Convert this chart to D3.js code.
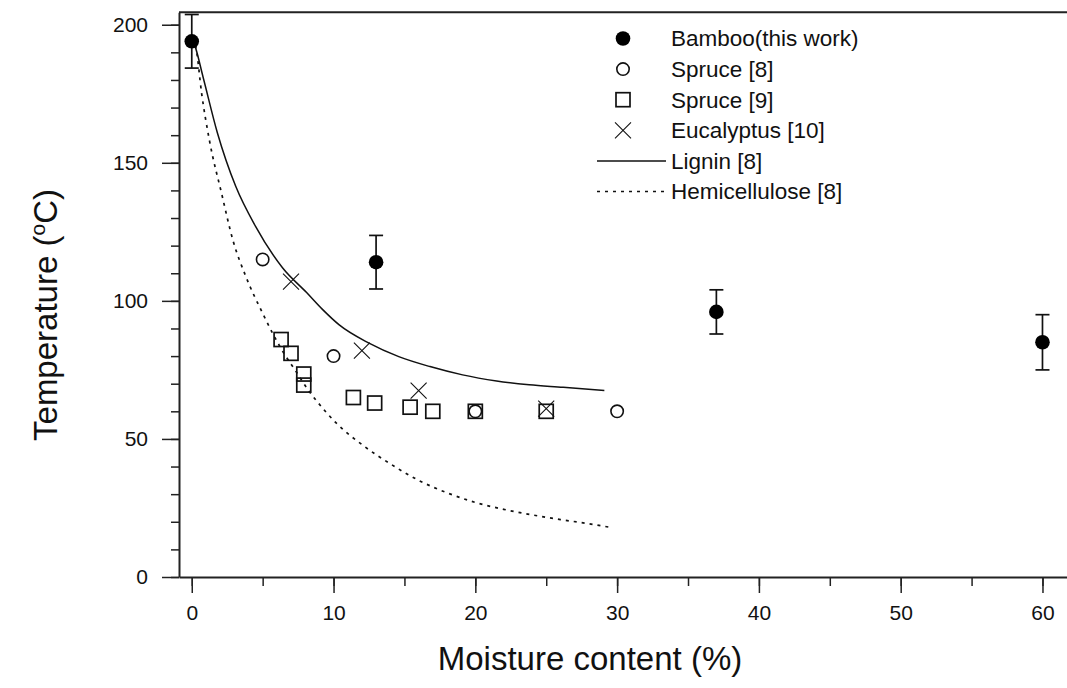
<!DOCTYPE html>
<html>
<head>
<meta charset="utf-8">
<script src="https://cdn.jsdelivr.net/npm/d3@7"></script>
<style>
  body { margin: 0; background: #fff; }
  text { font-family: "Liberation Sans", Arial, sans-serif; fill: #111; }
</style>
</head>
<body>
<div id="container"></div>
<script>
// measured points (moisture %, temperature C)
const bambooX = [0, 13, 37, 60];
const bambooY = [194, 114, 96, 85];
const bambooErr = [9.7, 9.7, 8, 10];

const spruce8X = [5, 10, 20, 30];
const spruce8Y = [115, 80, 60, 60];

const spruce9X = [6.3, 7, 7.9, 7.9, 11.4, 12.9, 15.4, 17, 20, 25];
const spruce9Y = [86, 81, 73.5, 69.5, 65, 63, 61.5, 60, 60, 60];

const eucX = [7, 12, 16, 25];
const eucY = [107, 82, 67.5, 61];

const ligninX = [0, 0.2, 0.8, 1.8, 3.1, 4.5, 6.4, 8.1, 9.2, 10.4, 12.5, 14.6, 16.8, 19.1, 21.5, 23.8, 26.2, 29.1];
const ligninY = [195, 192.7, 181, 161, 141.5, 127, 112, 103, 97, 91.3, 84.7, 79.8, 76.2, 73.2, 71, 69.6, 68.7, 67.5];

const hemiX = [0, 0.3, 0.7, 1.25, 2.1, 2.9, 3.8, 5.0, 5.7, 6.5, 7.36, 8.2, 8.77, 10.2, 12.2, 14, 16, 18, 20, 22, 24, 26, 28, 29.5];
const hemiY = [195, 191.5, 175, 158, 139, 122, 109, 95.5, 88.3, 81, 74.4, 67.8, 64, 55.7, 47.2, 41, 35, 30.5, 27, 24.5, 22.5, 20.8, 19.3, 18];

const xTicks = [0, 10, 20, 30, 40, 50, 60];
const yTicks = [0, 50, 100, 150, 200];

const legendLabels = ["Bamboo(this work)", "Spruce [8]", "Spruce [9]", "Eucalyptus [10]", "Lignin [8]", "Hemicellulose [8]"];

const W = 1067, H = 688;
const plotL = 179, plotT = 12.3, plotB = 577, plotR = 1068;

const svg = d3.select("#container").append("svg")
  .attr("width", W).attr("height", H);

const x = d3.scaleLinear().domain([-0.9, 61.8]).range([plotL, plotR]);
const y = d3.scaleLinear().domain([0, 204.5]).range([plotB, plotT]);

// minor ticks first
svg.append("g")
  .attr("transform", "translate(0," + plotB + ")")
  .call(d3.axisBottom(x).tickValues(d3.range(0, 61, 5)).tickSize(9).tickSizeOuter(0).tickFormat(""))
  .call(g => g.select(".domain").remove());
svg.append("g")
  .attr("transform", "translate(" + plotL + ",0)")
  .call(d3.axisLeft(y).tickValues(d3.range(0, 201, 10)).tickSize(8).tickSizeOuter(0).tickFormat(""))
  .call(g => g.select(".domain").remove());

svg.append("g")
  .attr("transform", "translate(0," + plotB + ")")
  .call(d3.axisBottom(x).tickValues(xTicks).tickSize(16).tickSizeOuter(0).tickPadding(12));
svg.append("g")
  .attr("transform", "translate(" + plotL + ",0)")
  .call(d3.axisLeft(y).tickValues(yTicks).tickSize(17).tickSizeOuter(0).tickPadding(14));

svg.selectAll(".tick line").attr("stroke", "#222").attr("stroke-width", 1.5);
svg.selectAll(".domain").attr("stroke", "#222").attr("stroke-width", 2);
svg.selectAll(".tick text").style("font-size", "21px").attr("fill", "#111");

// top frame line
svg.append("line")
  .attr("x1", plotL).attr("x2", plotR)
  .attr("y1", y(204.5)).attr("y2", y(204.5))
  .attr("stroke", "#222").attr("stroke-width", 2);

// axis titles
svg.append("text")
  .attr("x", 590).attr("y", 670)
  .attr("text-anchor", "middle")
  .style("font-size", "33px")
  .text("Moisture content (%)");

const yt = svg.append("text")
  .attr("transform", "translate(57,315) rotate(-90)")
  .attr("text-anchor", "middle")
  .style("font-size", "33px");
yt.append("tspan").text("Temperature (");
yt.append("tspan").attr("dy", -12).style("font-size", "21px").text("o");
yt.append("tspan").attr("dy", 12).text("C)");

// curves
const line = d3.line().x(d => x(d[0])).y(d => y(d[1])).curve(d3.curveMonotoneX);

svg.append("path")
  .datum(d3.zip(ligninX, ligninY))
  .attr("fill", "none").attr("stroke", "#111").attr("stroke-width", 1.5)
  .attr("d", line);

svg.append("path")
  .datum(d3.zip(hemiX, hemiY))
  .attr("fill", "none").attr("stroke", "#111").attr("stroke-width", 1.7)
  .attr("stroke-dasharray", "3,5")
  .attr("d", line);

// markers
function square(g, cx, cy) {
  g.append("rect").attr("x", cx - 7).attr("y", cy - 7)
    .attr("width", 14).attr("height", 14)
    .attr("fill", "none").attr("stroke", "#111").attr("stroke-width", 1.7);
}
function circle(g, cx, cy) {
  g.append("circle").attr("cx", cx).attr("cy", cy).attr("r", 6.2)
    .attr("fill", "none").attr("stroke", "#111").attr("stroke-width", 1.6);
}
function cross(g, cx, cy) {
  const s = 8;
  g.append("path")
    .attr("d", `M${cx - s},${cy - s}L${cx + s},${cy + s}M${cx - s},${cy + s}L${cx + s},${cy - s}`)
    .attr("stroke", "#111").attr("stroke-width", 1.1).attr("fill", "none");
}
function dot(g, cx, cy) {
  g.append("circle").attr("cx", cx).attr("cy", cy).attr("r", 7.3).attr("fill", "#000");
}

const marks = svg.append("g");
spruce9X.forEach((v, i) => square(marks, x(v), y(spruce9Y[i])));
spruce8X.forEach((v, i) => circle(marks, x(v), y(spruce8Y[i])));
eucX.forEach((v, i) => cross(marks, x(v), y(eucY[i])));

// bamboo with error bars
bambooX.forEach((v, i) => {
  const cx = x(v), lo = y(bambooY[i] - bambooErr[i]), hi = y(bambooY[i] + bambooErr[i]);
  marks.append("line").attr("x1", cx).attr("x2", cx).attr("y1", lo).attr("y2", hi)
    .attr("stroke", "#111").attr("stroke-width", 1.7);
  [lo, hi].forEach(yy => marks.append("line")
    .attr("x1", cx - 7).attr("x2", cx + 7).attr("y1", yy).attr("y2", yy)
    .attr("stroke", "#111").attr("stroke-width", 1.7));
  dot(marks, cx, y(bambooY[i]));
});

// legend
const lg = svg.append("g");
const lx = 623, tx = 671, ly0 = 38.5, step = 30.6;
legendLabels.forEach((t, i) => {
  const cy = ly0 + i * step;
  if (i === 0) dot(lg, lx, cy);
  if (i === 1) circle(lg, lx, cy);
  if (i === 2) square(lg, lx, cy);
  if (i === 3) cross(lg, lx, cy);
  if (i === 4) lg.append("line").attr("x1", 597).attr("x2", 666).attr("y1", cy).attr("y2", cy)
    .attr("stroke", "#111").attr("stroke-width", 1.5);
  if (i === 5) lg.append("line").attr("x1", 597).attr("x2", 666).attr("y1", cy).attr("y2", cy)
    .attr("stroke", "#111").attr("stroke-width", 1.7).attr("stroke-dasharray", "3,5");
  lg.append("text").attr("x", tx).attr("y", cy).attr("dy", "0.35em")
    .style("font-size", "22.5px").text(t);
});
</script>
</body>
</html>
